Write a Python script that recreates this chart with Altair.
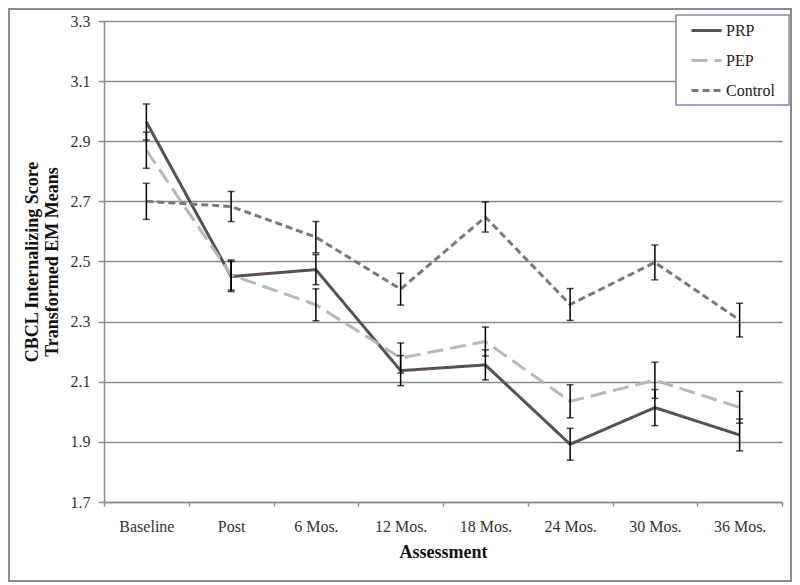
import altair as alt
import pandas as pd

categories = ["Baseline", "Post", "6 Mos.", "12 Mos.", "18 Mos.", "24 Mos.", "30 Mos.", "36 Mos."]
series_names = ["PRP", "PEP", "Control"]
prp = [2.964, 2.450, 2.473, 2.137, 2.156, 1.892, 2.014, 1.923]
prp_err = [0.060, 0.050, 0.050, 0.050, 0.050, 0.053, 0.060, 0.053]
pep = [2.870, 2.455, 2.356, 2.179, 2.234, 2.035, 2.105, 2.015]
pep_err = [0.060, 0.050, 0.053, 0.050, 0.048, 0.055, 0.060, 0.053]
control = [2.700, 2.683, 2.581, 2.408, 2.648, 2.357, 2.497, 2.305]
control_err = [0.060, 0.050, 0.052, 0.053, 0.050, 0.053, 0.058, 0.056]
y_ticks = [1.7, 1.9, 2.1, 2.3, 2.5, 2.7, 2.9, 3.1, 3.3]

rows = []
for name, vals, errs in [("PRP", prp, prp_err), ("PEP", pep, pep_err), ("Control", control, control_err)]:
    for c, v, e in zip(categories, vals, errs):
        rows.append({"Assessment": c, "series": name, "value": v, "lo": v - e, "hi": v + e})
df = pd.DataFrame(rows)

FONT = "Liberation Serif"

x_enc = alt.X(
    "Assessment:N",
    sort=categories,
    bandPosition=0.5,
    scale=alt.Scale(type="band", domain=categories, paddingInner=0, paddingOuter=0),
    axis=alt.Axis(
        title="Assessment", labelAngle=0, tickBand="extent", tickSize=4,
        domainColor="#8c8c8c", domainWidth=1.5, tickColor="#8c8c8c", tickWidth=1.5,
        labelPadding=12, titlePadding=9, grid=False,
    ),
)
y_scale = alt.Scale(domain=[1.7, 3.3], nice=False, zero=False)

legend_def = alt.Legend(
    title=None, orient="none", legendX=576, legendY=-17,
    symbolType="stroke", symbolSize=900, symbolStrokeWidth=3,
    labelFontSize=16, labelFont=FONT, labelColor="#222", labelOffset=3,
    padding=10, rowPadding=5,
)

base = alt.Chart(df)

lines = base.mark_line(strokeWidth=3).encode(
    x=x_enc,
    y=alt.Y(
        "value:Q", scale=y_scale,
        axis=alt.Axis(
            title=["CBCL Internalizing Score", "Transformed EM Means"],
            values=y_ticks, format=".1f", tickSize=6, labelPadding=8, titlePadding=9,
            gridColor="#8c8c8c", gridWidth=1.5, domainColor="#8c8c8c", domainWidth=1.5,
            tickColor="#8c8c8c", tickWidth=1.5,
        ),
    ),
    color=alt.Color(
        "series:N",
        scale=alt.Scale(domain=series_names, range=["#5a5050", "#bcb7b7", "#7c7878"]),
        legend=legend_def,
    ),
    strokeDash=alt.StrokeDash(
        "series:N",
        scale=alt.Scale(domain=series_names, range=[[1, 0], [16, 7], [7, 4]]),
        legend=legend_def,
    ),
    detail="series:N",
)

err_rule = base.mark_rule(color="black", strokeWidth=1.5).encode(
    x=alt.X("Assessment:N", sort=categories, bandPosition=0.5),
    y=alt.Y("lo:Q", scale=y_scale),
    y2="hi:Q",
)
cap_lo = base.mark_tick(color="black", thickness=1.5, size=7, orient="horizontal").encode(
    x=alt.X("Assessment:N", sort=categories, bandPosition=0.5),
    y=alt.Y("lo:Q", scale=y_scale),
)
cap_hi = base.mark_tick(color="black", thickness=1.5, size=7, orient="horizontal").encode(
    x=alt.X("Assessment:N", sort=categories, bandPosition=0.5),
    y=alt.Y("hi:Q", scale=y_scale),
)

frame = alt.Chart(alt.Data(values=[{}])).mark_rect(
    fill=None, stroke="#8c8c8c", strokeWidth=2
).encode(
    x=alt.value(-95), x2=alt.value(687), y=alt.value(-12), y2=alt.value(560)
)

legend_box = alt.Chart(alt.Data(values=[{}])).mark_rect(
    fill="white", stroke="#7f8cb4", strokeWidth=1.5
).encode(
    x=alt.value(572), x2=alt.value(685), y=alt.value(-6), y2=alt.value(84)
)

chart = alt.layer(frame, lines, err_rule, cap_lo, cap_hi, legend_box).properties(
    width=678, height=481,
    autosize=alt.AutoSizeParams(type="none"),
    padding={"left": 96, "top": 13, "right": 10, "bottom": 80},
    background="white",
).configure_view(stroke=None).configure_axis(
    labelFont=FONT, labelFontSize=16, labelColor="#333",
    titleFont=FONT, titleFontSize=18, titleFontWeight="bold", titleColor="#111",
).resolve_scale(x="shared", y="shared")

chart.save("out.html", embed_options={"renderer": "svg", "actions": False})
